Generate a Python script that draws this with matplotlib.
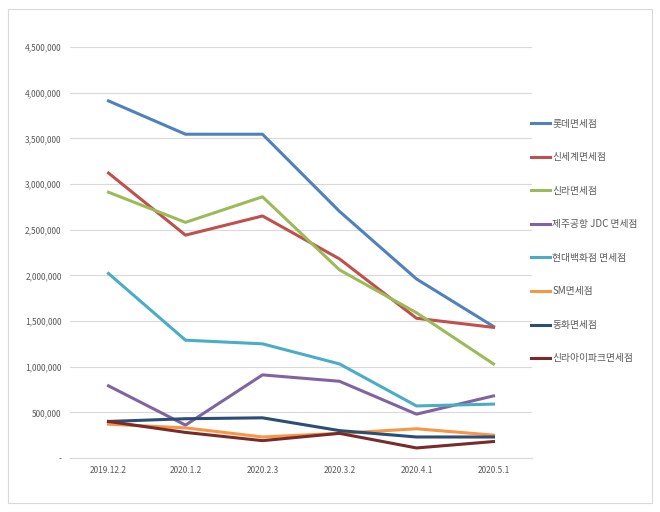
import matplotlib.pyplot as plt
from matplotlib.patches import Rectangle
from matplotlib.ticker import FuncFormatter

plt.rcParams['font.family'] = ['Noto Sans CJK KR', 'DejaVu Sans']

dates = ['2019.12.2', '2020.1.2', '2020.2.3', '2020.3.2', '2020.4.1', '2020.5.1']

lotte = [3910000, 3545000, 3545000, 2700000, 1960000, 1440000]
shinsegae = [3120000, 2440000, 2650000, 2180000, 1530000, 1430000]
shilla = [2910000, 2580000, 2860000, 2060000, 1590000, 1030000]
jeju_jdc = [790000, 360000, 910000, 840000, 480000, 680000]
hyundai = [2020000, 1290000, 1250000, 1030000, 570000, 590000]
sm = [370000, 330000, 230000, 270000, 320000, 250000]
donghwa = [400000, 430000, 440000, 300000, 230000, 230000]
shilla_ipark = [400000, 280000, 190000, 270000, 110000, 180000]

names = ['롯데면세점', '신세계면세점', '신라면세점', '제주공항 JDC 면세점',
         '현대백화점 면세점', 'SM면세점', '동화면세점', '신라아이파크면세점']
series = [lotte, shinsegae, shilla, jeju_jdc, hyundai, sm, donghwa, shilla_ipark]
colors = ['#4F81BD', '#C0504D', '#9BBB59', '#8064A2',
          '#4BACC6', '#F79646', '#2C4D75', '#772C2A']

fig = plt.figure(figsize=(6.6, 5.12), dpi=100)
fig.patches.append(Rectangle((8 / 660, 9 / 512), 644 / 660, 494 / 512,
                             transform=fig.transFigure, fill=False,
                             edgecolor='#D9D9D9', linewidth=0.8))
ax = fig.add_axes([70 / 660, 54 / 512, 462 / 660, 411 / 512])

x = range(len(dates))
for vals, name, c in zip(series, names, colors):
    ax.plot(x, vals, color=c, linewidth=2.2, label=name)

ax.set_xlim(-0.5, len(dates) - 0.5)
ax.set_ylim(0, 4500000)
ax.set_yticks(range(0, 4500001, 500000))
ax.yaxis.set_major_formatter(FuncFormatter(lambda v, p: '-' if v == 0 else f'{int(v):,}'))
ax.set_xticks(list(x))
ax.set_xticklabels(dates)
ax.tick_params(axis='both', length=0, labelsize=6, colors='#595959')
ax.tick_params(axis='y', pad=6)
ax.tick_params(axis='x', pad=6)
ax.grid(axis='y', color='#D9D9D9', linewidth=0.8)
ax.set_axisbelow(True)
for s in ax.spines.values():
    s.set_visible(False)
ax.spines['bottom'].set_visible(True)
ax.spines['bottom'].set_color('#D9D9D9')

leg = fig.legend(loc='upper left', bbox_to_anchor=(522 / 660, 402 / 512),
                 frameon=False, fontsize=7, labelspacing=2.42,
                 handlelength=2.0, handletextpad=0.2)
for t in leg.get_texts():
    t.set_color('#595959')

fig.savefig('out.png', dpi=100)
